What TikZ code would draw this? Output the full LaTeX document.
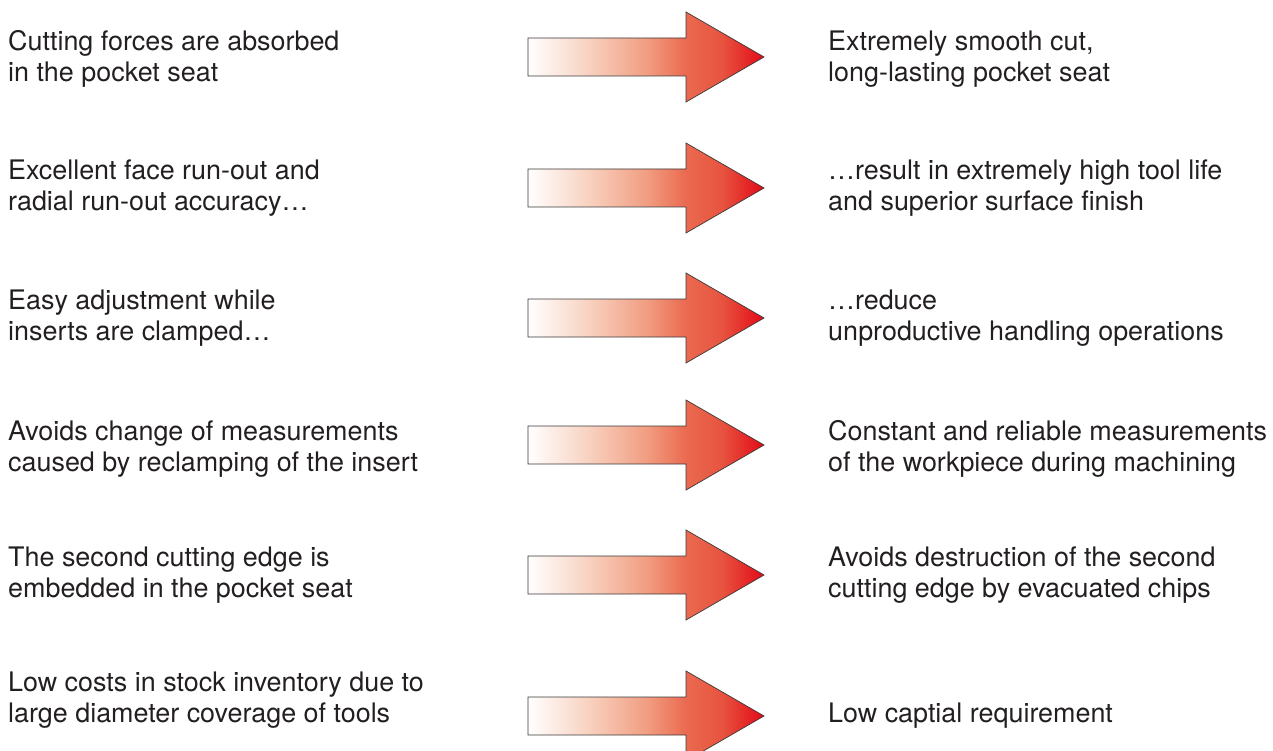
\documentclass[tikz,border=0pt]{standalone}
\usepackage{fontspec}
\setmainfont{TeX Gyre Heros}
\usetikzlibrary{positioning}
\definecolor{txtgray}{HTML}{231F20}
\definecolor{edgegray}{HTML}{3A3A3A}
\definecolor{fadeA}{HTML}{F8D3C2}
\definecolor{fadeB}{HTML}{F19E82}
\definecolor{fadeC}{HTML}{EA6A50}
\definecolor{fadeD}{HTML}{E75440}
\definecolor{fadeE}{HTML}{E30A17}
\pgfdeclarehorizontalshading{redfade}{100bp}{color(0bp)=(white); color(25bp)=(white);
  color(37.5bp)=(fadeA); color(50bp)=(fadeB); color(58.5bp)=(fadeC);
  color(66bp)=(fadeD); color(75bp)=(fadeE); color(100bp)=(fadeE)}

\begin{document}
\begin{tikzpicture}[x=1pt,y=-1pt,
every node/.style={font=\fontsize{26.9}{31}\selectfont,text=txtgray,inner sep=0pt,align=left},
bigarrow/.style={draw=edgegray,line width=0.7pt,shading=redfade}]
\useasboundingbox (0,0) rectangle (1273,751);
\clip (0,0) rectangle (1273,751);
% arrows
\foreach \c [count=\i] in {57,188,318,445,575,716}{
\coordinate (arr\i) at (528,\c);
\draw[bigarrow] (528,\c-19) -- (686,\c-19) -- (686,\c-45) -- (764,\c)
  -- (686,\c+45) -- (686,\c+19) -- (528,\c+19) -- cycle;
}
% causes
\node[anchor=base west] (cause1) at (8,82) {Cutting forces are absorbed\\in the pocket seat};
\node[anchor=base west] (cause2) at (8,211) {Excellent face run-out and\\radial run-out accuracy…};
\node[anchor=base west] (cause3) at (8,340) {Easy adjustment while\\inserts are clamped…};
\node[anchor=base west] (cause4) at (8,471) {Avoids change of measurements\\caused by reclamping of the insert};
\node[anchor=base west] (cause5) at (8,597) {The second cutting edge is\\embedded in the pocket seat};
\node[anchor=base west] (cause6) at (8,722) {Low costs in stock inventory due to\\large diameter coverage of tools};
% effects
\node[anchor=base west] (effect1) at (828,82) {Extremely smooth cut,\\long-lasting pocket seat};
\node[anchor=base west] (effect2) at (828,211) {…result in extremely high tool life\\and superior surface finish};
\node[anchor=base west] (effect3) at (828,340) {…reduce\\unproductive handling operations};
\node[anchor=base west] (effect4) at (828,471) {Constant and reliable measurements\\of the workpiece during machining};
\node[anchor=base west] (effect5) at (828,597) {Avoids destruction of the second\\cutting edge by evacuated chips};
\node[anchor=base west] (effect6) at (828,722) {Low captial requirement};
\end{tikzpicture}
\end{document}
